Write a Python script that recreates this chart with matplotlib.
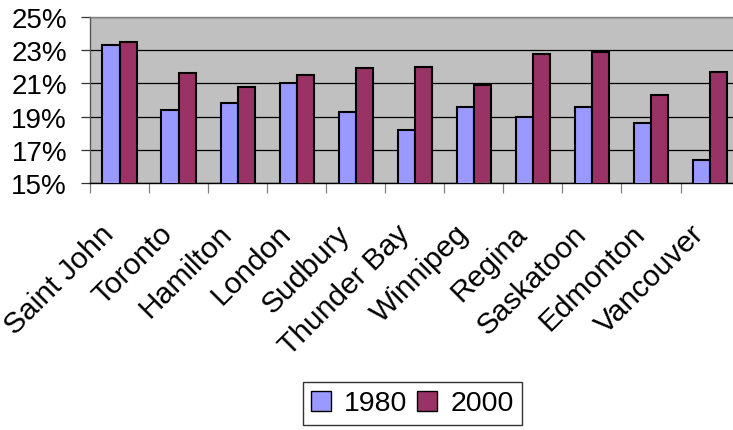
import matplotlib
matplotlib.use("Agg")
import matplotlib.pyplot as plt
import numpy as np
from matplotlib.transforms import ScaledTranslation
from matplotlib.ticker import FixedLocator

cities = ["Saint John", "Toronto", "Hamilton", "London", "Sudbury",
          "Thunder Bay", "Winnipeg", "Regina", "Saskatoon", "Edmonton",
          "Vancouver"]
share_1980 = [23.3, 19.4, 19.8, 21.0, 19.3, 18.2, 19.6, 19.0, 19.6, 18.6, 16.4]
share_2000 = [23.5, 21.6, 20.8, 21.5, 21.9, 22.0, 20.9, 22.8, 22.9, 20.3, 21.7]
y_ticks = [15, 17, 19, 21, 23, 25]
series_labels = ["1980", "2000"]

plt.rcParams["font.family"] = ["Liberation Sans", "DejaVu Sans"]

fig = plt.figure(figsize=(7.33, 4.31), dpi=100)
W, H = 733, 431
ax = fig.add_axes([90 / W, (H - 184) / H, 649.6 / W, 166 / H])
ax.set_facecolor("#C0C0C0")

x = np.arange(len(cities))
bw = 0.29
ax.bar(x - bw / 2, share_1980, bw, bottom=0, color="#9999FF",
       edgecolor="black", linewidth=1.5, label=series_labels[0], zorder=3)
ax.bar(x + bw / 2, share_2000, bw, bottom=0, color="#993366",
       edgecolor="black", linewidth=1.5, label=series_labels[1], zorder=3)

ax.set_xlim(-0.5, len(cities) - 0.5)
ax.set_ylim(15, 25)
ax.set_yticks(y_ticks)
ax.set_yticklabels([f"{v}%" for v in y_ticks], fontsize=20)
ax.yaxis.grid(True, color="black", linewidth=0.9)
ax.set_axisbelow(True)

ax.tick_params(axis="y", length=6.5, width=0.9, color="#333333", pad=10)

# category boundary ticks (minor) and labels at centres (major)
ax.set_xticks(x)
ax.set_xticklabels(cities, fontsize=21.5, rotation=45, ha="right",
                   va="center", rotation_mode="anchor")
ax.xaxis.set_minor_locator(FixedLocator(np.arange(-0.5, len(cities), 1.0)))
ax.tick_params(axis="x", which="major", length=0, pad=0)
ax.tick_params(axis="x", which="minor", length=7.2, width=0.9, color="#808080")
offset = ScaledTranslation(-10 / 100, -46 / 100, fig.dpi_scale_trans)
for lab in ax.get_xticklabels():
    lab.set_transform(lab.get_transform() + offset)

ax.spines["left"].set_color("#555555")
ax.spines["top"].set_color("#808080")
ax.spines["bottom"].set_color("black")
ax.spines["right"].set_visible(False)
for s in ax.spines.values():
    s.set_linewidth(1.0)

leg = fig.legend(loc="center", bbox_to_anchor=(412.5 / W, (H - 404.5) / H),
                 bbox_transform=fig.transFigure, ncol=2, fontsize=20.5,
                 frameon=True, fancybox=False, shadow=False,
                 handlelength=0.7, handleheight=0.7, handletextpad=0.45,
                 columnspacing=0.35, borderpad=0.3)
leg.get_frame().set_edgecolor("black")
leg.get_frame().set_linewidth(1.0)
for h in leg.legend_handles:
    h.set_linewidth(1.0)

fig.savefig("out.png", dpi=100)
